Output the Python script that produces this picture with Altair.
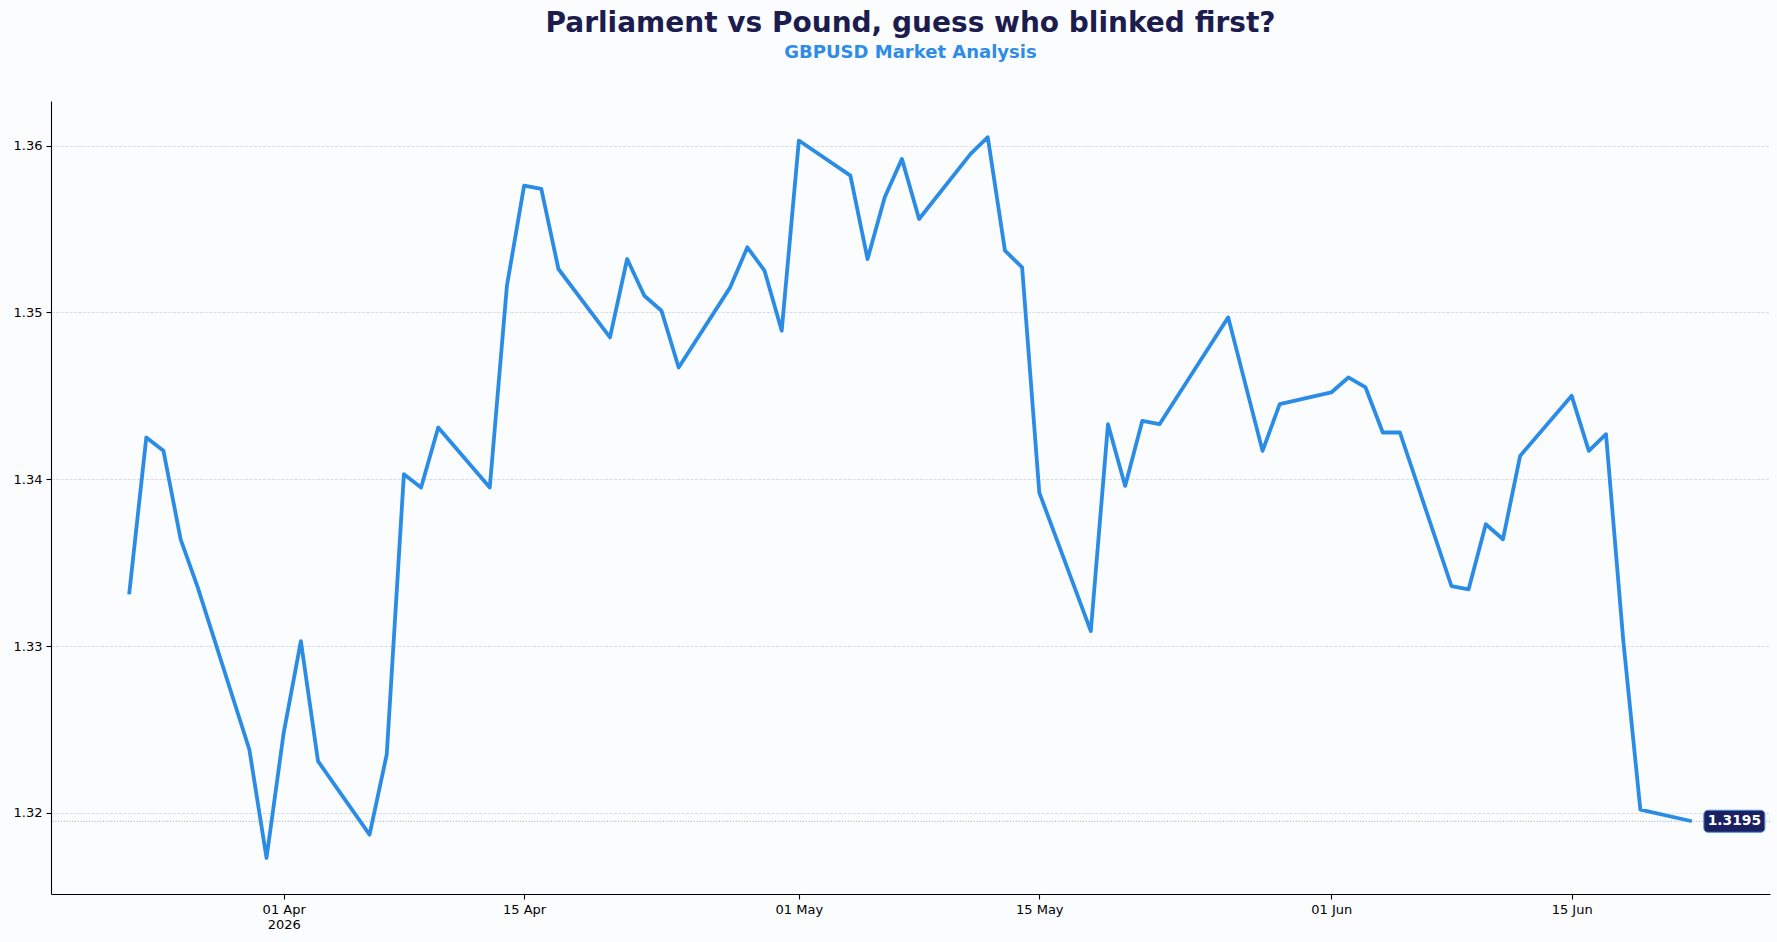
import altair as alt
import pandas as pd

# ---- data ----
dates = [
    "2026-03-23", "2026-03-24", "2026-03-25", "2026-03-26", "2026-03-27",
    "2026-03-30", "2026-03-31", "2026-04-01", "2026-04-02", "2026-04-03",
    "2026-04-06", "2026-04-07", "2026-04-08", "2026-04-09", "2026-04-10",
    "2026-04-13", "2026-04-14", "2026-04-15", "2026-04-16", "2026-04-17",
    "2026-04-20", "2026-04-21", "2026-04-22", "2026-04-23", "2026-04-24",
    "2026-04-27", "2026-04-28", "2026-04-29", "2026-04-30", "2026-05-01",
    "2026-05-04", "2026-05-05", "2026-05-06", "2026-05-07", "2026-05-08",
    "2026-05-11", "2026-05-12", "2026-05-13", "2026-05-14", "2026-05-15",
    "2026-05-18", "2026-05-19", "2026-05-20", "2026-05-21", "2026-05-22",
    "2026-05-25", "2026-05-26", "2026-05-28", "2026-05-29",
    "2026-06-01", "2026-06-02", "2026-06-03", "2026-06-04", "2026-06-05",
    "2026-06-08", "2026-06-09", "2026-06-10", "2026-06-11", "2026-06-12",
    "2026-06-15", "2026-06-16", "2026-06-17", "2026-06-18", "2026-06-19",
    "2026-06-22",
]
rates = [
    1.3331, 1.3425, 1.3417, 1.3364, 1.3335,
    1.3238, 1.3173, 1.3248, 1.3303, 1.3231,
    1.3187, 1.3235, 1.3403, 1.3395, 1.3431,
    1.3395, 1.3516, 1.3576, 1.3574, 1.3526,
    1.3485, 1.3532, 1.3510, 1.3501, 1.3467,
    1.3515, 1.3539, 1.3525, 1.3489, 1.3603,
    1.3582, 1.3532, 1.3569, 1.3592, 1.3556,
    1.3595, 1.3605, 1.3537, 1.3527, 1.3392,
    1.3309, 1.3433, 1.3396, 1.3435, 1.3433,
    1.3481, 1.3497, 1.3417, 1.3445,
    1.3452, 1.3461, 1.3455, 1.3428, 1.3428,
    1.3336, 1.3334, 1.3373, 1.3364, 1.3414,
    1.3450, 1.3417, 1.3427, 1.3304, 1.3202,
    1.3195,
]
y_ticks = [1.32, 1.33, 1.34, 1.35, 1.36]
x_tick_dates = ["2026-04-01", "2026-04-15", "2026-05-01", "2026-05-15", "2026-06-01", "2026-06-15"]
title_text = "Parliament vs Pound, guess who blinked first?"
subtitle_text = "GBPUSD Market Analysis"

df = pd.DataFrame({"date": dates, "rate": rates})
last = df.iloc[[-1]].reset_index(drop=True)

x_tick_ms = [int(pd.Timestamp(d, tz="UTC").value // 10**6) for d in x_tick_dates]

x_scale = alt.Scale(
    type="utc",
    nice=False,
    domain=[
        alt.DateTime(year=2026, month=3, date=18, hours=10, minutes=48, utc=True),
        alt.DateTime(year=2026, month=6, date=26, hours=13, minutes=12, utc=True),
    ],
)
y_scale = alt.Scale(domain=[1.31514, 1.36267], nice=False, zero=False)

x_axis = alt.Axis(
    title=None,
    values=x_tick_ms,
    grid=False,
    labelExpr="(utcFormat(datum.value, '%m-%d') == '04-01') ? [utcFormat(datum.value, '%d %b'), utcFormat(datum.value, '%Y')] : utcFormat(datum.value, '%d %b')",
    labelLineHeight=15,
    labelPadding=4,
)
y_axis = alt.Axis(
    title=None,
    values=y_ticks,
    format=".2f",
    grid=True,
    gridColor="#cfd4dc",
    gridDash=[3, 1.5],
    gridWidth=0.8,
    labelPadding=4,
)

base = alt.Chart(df)

line = base.mark_line(
    color="#2b8ce6", strokeWidth=3.8, strokeJoin="round", strokeCap="butt"
).encode(
    x=alt.X("date:T", scale=x_scale, axis=x_axis),
    y=alt.Y("rate:Q", scale=y_scale, axis=y_axis),
)

last_base = alt.Chart(last)

hline = last_base.mark_rule(
    color="#9aa2ad", strokeDash=[1, 1.8], strokeWidth=1
).encode(y=alt.Y("rate:Q", scale=y_scale))

box = last_base.mark_rect(
    color="#1a2060", stroke="#4a8fe0", strokeWidth=1, cornerRadius=4,
    xOffset=12, x2Offset=73, yOffset=-11, y2Offset=11,
).encode(
    x=alt.X("date:T", scale=x_scale),
    x2="date:T",
    y=alt.Y("rate:Q", scale=y_scale),
    y2="rate:Q",
)

label = last_base.mark_text(
    color="white", fontWeight="bold", fontSize=13.8, font="DejaVu Sans",
    dx=42.5, align="center", baseline="middle",
).encode(
    x=alt.X("date:T", scale=x_scale),
    y=alt.Y("rate:Q", scale=y_scale),
    text=alt.Text("rate:Q", format=".4f"),
)

chart = (
    alt.layer(hline, line, box, label)
    .properties(
        width=1719,
        height=793,
        background="#fbfcfe",
        padding={"left": 51, "top": 101, "right": 7, "bottom": 48},
        autosize=alt.AutoSizeParams(type="none"),
        title=alt.TitleParams(
            text=title_text,
            subtitle=subtitle_text,
            font="DejaVu Sans",
            subtitleFont="DejaVu Sans",
            fontSize=28,
            subtitleFontSize=18,
            fontWeight="bold",
            subtitleFontWeight="bold",
            color="#1c1c4e",
            subtitleColor="#2e8ce6",
            anchor="middle",
            frame="group",
            offset=39,
            subtitlePadding=6,
        ),
    )
    .configure_view(strokeWidth=0)
    .configure_axis(
        domainColor="black",
        domainWidth=1.1,
        tickColor="black",
        tickWidth=1.1,
        tickSize=5,
        labelColor="black",
        labelFont="DejaVu Sans",
        labelFontSize=13,
    )
)

chart.save("out.html", embed_options={"renderer": "svg", "actions": False})
